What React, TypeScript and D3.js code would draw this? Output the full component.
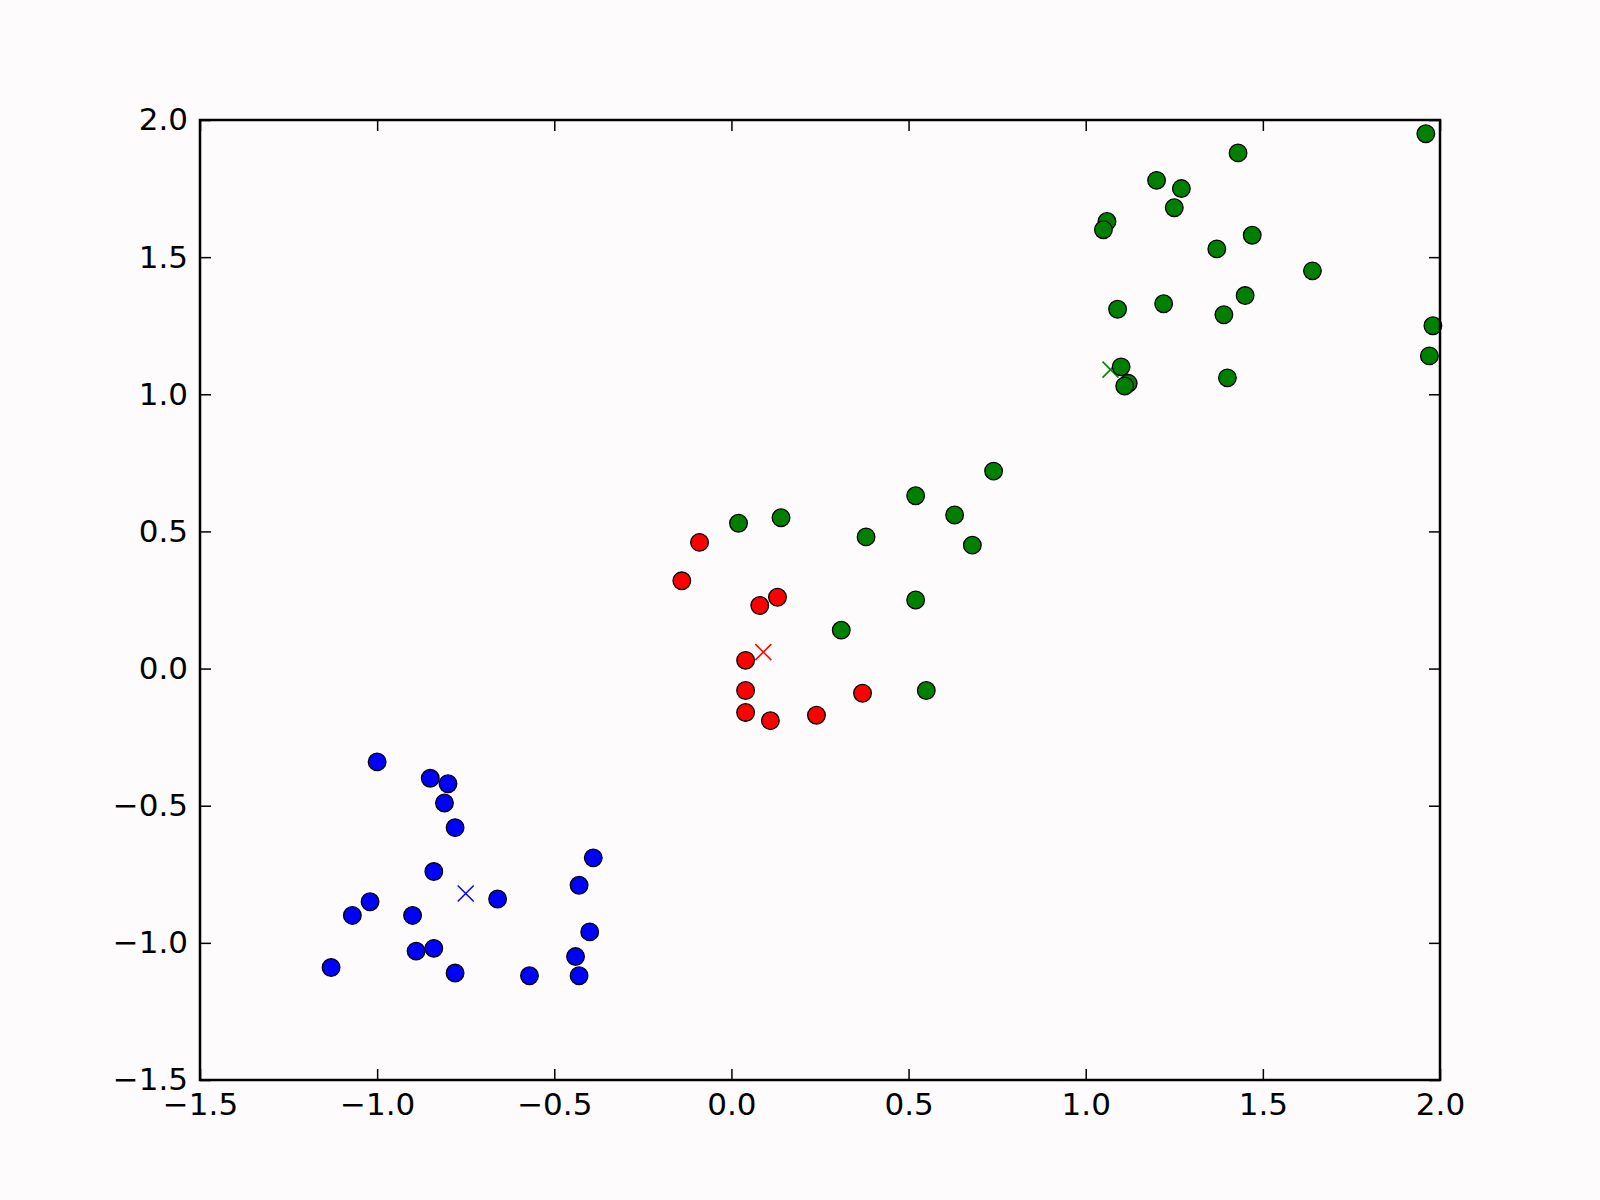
import { useEffect, useRef } from "react";
import * as d3 from "d3";

// cluster points
const blueX = [-1.0, -0.85, -0.8, -0.81, -0.78, -0.84, -0.66, -1.02, -1.07, -0.9, -0.89, -0.84, -1.13, -0.78, -0.57, -0.39, -0.43, -0.4, -0.44, -0.43];
const blueY = [-0.34, -0.4, -0.42, -0.49, -0.58, -0.74, -0.84, -0.85, -0.9, -0.9, -1.03, -1.02, -1.09, -1.11, -1.12, -0.69, -0.79, -0.96, -1.05, -1.12];

const redX = [-0.09, -0.14, 0.08, 0.13, 0.04, 0.04, 0.04, 0.11, 0.24, 0.37];
const redY = [0.46, 0.32, 0.23, 0.26, 0.03, -0.08, -0.16, -0.19, -0.17, -0.09];

const greenX = [0.02, 0.14, 0.38, 0.63, 0.68, 0.52, 0.31, 0.55, 0.52, 0.74,
    1.96, 1.43, 1.2, 1.27, 1.25, 1.06, 1.05, 1.47, 1.37, 1.64, 1.09, 1.22, 1.45, 1.39, 1.98, 1.97, 1.1, 1.12, 1.11, 1.4];
const greenY = [0.53, 0.55, 0.48, 0.56, 0.45, 0.25, 0.14, -0.08, 0.63, 0.72,
    1.95, 1.88, 1.78, 1.75, 1.68, 1.63, 1.6, 1.58, 1.53, 1.45, 1.31, 1.33, 1.36, 1.29, 1.25, 1.14, 1.1, 1.04, 1.03, 1.06];

// centroids (x markers)
const centroidX = [-0.75, 0.09, 1.07];
const centroidY = [-0.82, 0.06, 1.09];
const clusterColors = ["#0000ff", "#ff0000", "#008000"];

const tickValues = [-1.5, -1.0, -0.5, 0.0, 0.5, 1.0, 1.5, 2.0];

const App = () => {
    const chartRef = useRef<SVGSVGElement>(null);

    useEffect(() => {
        const svg = d3.select(chartRef.current);
        svg.selectAll("*").remove();

        const width = 1600;
        const height = 1200;
        const margin = { top: 120, right: 160, bottom: 120, left: 200 };

        svg.attr("width", width).attr("height", height);

        svg.append("rect")
            .attr("width", width)
            .attr("height", height)
            .attr("fill", "#fdfbfb");

        const x = d3.scaleLinear().domain([-1.5, 2.0]).range([margin.left, width - margin.right]);
        const y = d3.scaleLinear().domain([-1.5, 2.0]).range([height - margin.bottom, margin.top]);

        const fmt = (d: number) => d.toFixed(1).replace("-", "\u2212");

        // ticks on all four sides, pointing inward
        const tickLen = 11;
        const tickStyle = (g: d3.Selection<SVGGElement, unknown, null, undefined>) => {
            g.select(".domain").remove();
            g.selectAll(".tick line").attr("stroke", "#000").attr("stroke-width", 1.5);
            g.selectAll(".tick text")
                .attr("fill", "#000")
                .attr("font-family", "DejaVu Sans")
                .attr("font-size", 31);
        };

        svg.append("g")
            .attr("transform", `translate(0,${height - margin.bottom})`)
            .call(d3.axisBottom(x).tickValues(tickValues).tickFormat(fmt).tickSizeInner(-tickLen).tickSizeOuter(0).tickPadding(6))
            .call(tickStyle)
            .call((g) => g.selectAll(".tick text").attr("dy", "0.95em"));

        svg.append("g")
            .attr("transform", `translate(0,${margin.top})`)
            .call(d3.axisTop(x).tickValues(tickValues).tickFormat(() => "").tickSizeInner(-tickLen).tickSizeOuter(0))
            .call(tickStyle);

        svg.append("g")
            .attr("transform", `translate(${margin.left},0)`)
            .call(d3.axisLeft(y).tickValues(tickValues).tickFormat(fmt).tickSizeInner(-tickLen).tickSizeOuter(0).tickPadding(12))
            .call(tickStyle);

        svg.append("g")
            .attr("transform", `translate(${width - margin.right},0)`)
            .call(d3.axisRight(y).tickValues(tickValues).tickFormat(() => "").tickSizeInner(-tickLen).tickSizeOuter(0))
            .call(tickStyle);

        // centroid markers
        const s = 8;
        const cents = centroidX.map((cx, i) => ({ x: cx, y: centroidY[i], c: clusterColors[i] }));
        const cg = svg.append("g");
        cents.forEach((d) => {
            cg.append("path")
                .attr("d", `M${x(d.x) - s},${y(d.y) - s}L${x(d.x) + s},${y(d.y) + s}M${x(d.x) - s},${y(d.y) + s}L${x(d.x) + s},${y(d.y) - s}`)
                .attr("stroke", d.c)
                .attr("stroke-width", 1.5)
                .attr("fill", "none");
        });

        // cluster points
        const clusters = [
            { xs: blueX, ys: blueY, c: clusterColors[0] },
            { xs: redX, ys: redY, c: clusterColors[1] },
            { xs: greenX, ys: greenY, c: clusterColors[2] },
        ];
        clusters.forEach((cl) => {
            svg.append("g")
                .selectAll("circle")
                .data(cl.xs.map((v, i) => [v, cl.ys[i]]))
                .join("circle")
                .attr("cx", (d) => x(d[0]))
                .attr("cy", (d) => y(d[1]))
                .attr("r", 8.8)
                .attr("fill", cl.c)
                .attr("stroke", "#000")
                .attr("stroke-width", 1.3);
        });

        // frame
        svg.append("rect")
            .attr("x", margin.left)
            .attr("y", margin.top)
            .attr("width", width - margin.left - margin.right)
            .attr("height", height - margin.top - margin.bottom)
            .attr("fill", "none")
            .attr("stroke", "#000")
            .attr("stroke-width", 2.5);
    }, []);

    return (
        <svg ref={chartRef} style={{ position: "absolute", left: 0, top: 0 }}></svg>
    );
};

export default App;
